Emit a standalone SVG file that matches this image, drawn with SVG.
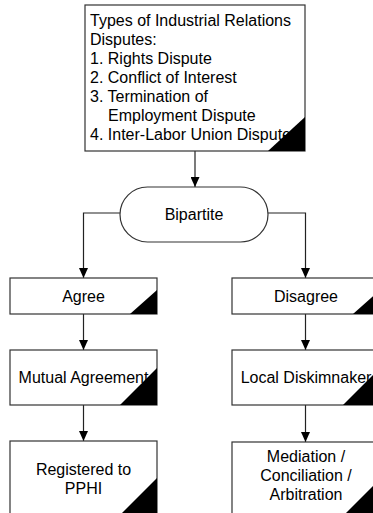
<svg xmlns="http://www.w3.org/2000/svg" width="373" height="513" viewBox="0 0 373 513">
  <defs>
    <marker id="arrow" markerWidth="10" markerHeight="9" refX="10" refY="4.5" orient="auto" markerUnits="userSpaceOnUse">
      <path d="M0,0 L10,4.5 L0,9 Z" fill="#000"/>
    </marker>
  </defs>
  <style>
    .box { fill: #fff; stroke: #333; stroke-width: 1.2; }
    .corner { fill: #000; stroke: none; }
    .lbl { font-family: "Liberation Sans", Arial, sans-serif; font-size: 16px; fill: #000; }
    .mid { text-anchor: middle; }
    .conn { fill: none; stroke: #222; stroke-width: 1.2; }
  </style>
  <rect width="373" height="513" fill="#fff"/>

  <!-- connectors -->
  <g id="connectors">
    <path class="conn" d="M195,151 V187" marker-end="url(#arrow)"/>
    <path class="conn" d="M120,213 H83.5 V278" marker-end="url(#arrow)"/>
    <path class="conn" d="M268,213 H305.5 V278" marker-end="url(#arrow)"/>
    <path class="conn" d="M83.5,314 V350" marker-end="url(#arrow)"/>
    <path class="conn" d="M305.5,314 V350" marker-end="url(#arrow)"/>
    <path class="conn" d="M83.5,405 V441" marker-end="url(#arrow)"/>
    <path class="conn" d="M305.5,405 V442" marker-end="url(#arrow)"/>
  </g>

  <!-- dispute types -->
  <g id="types">
    <rect class="box" x="85" y="5" width="220" height="146"/>
    <text class="lbl" x="90" y="26">Types of Industrial Relations</text>
    <text class="lbl" x="90" y="45">Disputes:</text>
    <text class="lbl" x="90" y="64">1. Rights Dispute</text>
    <text class="lbl" x="90" y="83">2. Conflict of Interest</text>
    <text class="lbl" x="90" y="102">3. Termination of</text>
    <text class="lbl" x="108" y="121">Employment Dispute</text>
    <text class="lbl" x="90" y="140">4. Inter-Labor Union Dispute</text>
    <path class="corner" d="M268,151 L305,117 V151 Z"/>
  </g>

  <!-- bipartite -->
  <g id="bipartite">
    <rect class="box" x="120" y="187" width="148" height="55" rx="27.5" ry="27.5"/>
    <text class="lbl mid" x="194" y="220">Bipartite</text>
  </g>

  <!-- agree branch -->
  <g id="agree">
    <rect class="box" x="10" y="278" width="147" height="36"/>
    <text class="lbl mid" x="83.5" y="302">Agree</text>
    <path class="corner" d="M130,314 L157,290 V314 Z"/>
  </g>
  <g id="mutual">
    <rect class="box" x="10" y="350" width="147" height="55"/>
    <text class="lbl mid" x="83.5" y="383">Mutual Agreement</text>
    <path class="corner" d="M120,405 L157,368 V405 Z"/>
  </g>
  <g id="registered">
    <rect class="box" x="10" y="441" width="147" height="74"/>
    <text class="lbl mid" x="83.5" y="475">Registered to</text>
    <text class="lbl mid" x="83.5" y="494">PPHI</text>
    <path class="corner" d="M120,515 L157,478 V515 Z"/>
  </g>

  <!-- disagree branch -->
  <g id="disagree">
    <rect class="box" x="232" y="278" width="148" height="36"/>
    <text class="lbl mid" x="306" y="302">Disagree</text>
    <path class="corner" d="M353,314 L380,290 V314 Z"/>
  </g>
  <g id="local">
    <rect class="box" x="232" y="350" width="148" height="55"/>
    <text class="lbl mid" x="306" y="383">Local Diskimnaker</text>
    <path class="corner" d="M343,405 L380,368 V405 Z"/>
  </g>
  <g id="mediation">
    <rect class="box" x="232" y="442" width="148" height="74"/>
    <text class="lbl mid" x="306" y="462">Mediation /</text>
    <text class="lbl mid" x="306" y="481">Conciliation /</text>
    <text class="lbl mid" x="306" y="500">Arbitration</text>
    <path class="corner" d="M343,516 L380,479 V516 Z"/>
  </g>
</svg>
